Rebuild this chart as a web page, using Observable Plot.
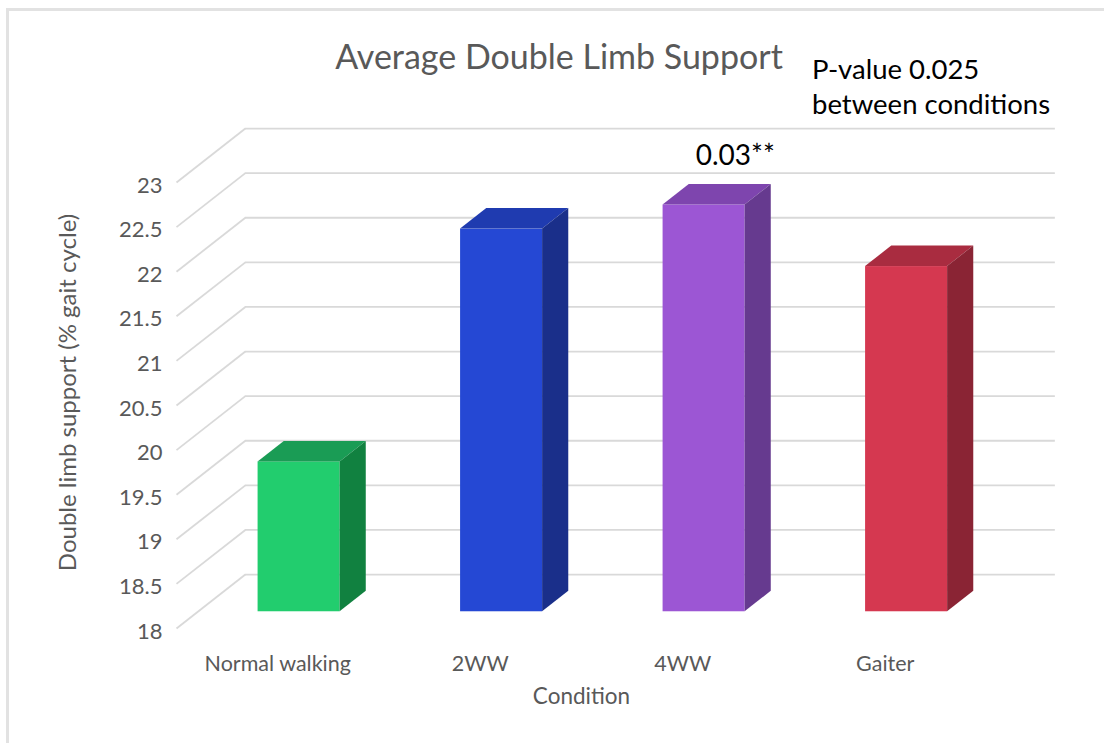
<!DOCTYPE html>
<html>
<head>
<meta charset="utf-8">
<script src="https://cdn.jsdelivr.net/npm/d3@7"></script>
<script src="https://cdn.jsdelivr.net/npm/@observablehq/plot@0.6"></script>
<style>
  html, body { margin: 0; padding: 0; background: #fff; }
  #chart { position: relative; width: 1104px; height: 743px; overflow: hidden; font-family: Lato, "Open Sans", sans-serif; }
  #chart svg { position: absolute; left: 0; top: 0; }
  #border { position: absolute; left: 6px; top: 8px; width: 1300px; height: 900px; border: 3px solid #e2e2e2; box-sizing: border-box; pointer-events: none; }
  .title { position: absolute; left: 7px; width: 1104px; top: 36px; text-align: center; font-size: 34px; line-height: 40px; color: #595959; }
  .note { position: absolute; left: 812px; top: 51px; font-size: 27.5px; line-height: 35px; color: #000; }
</style>
</head>
<body>
<div id="chart">
  <div class="title">Average Double Limb Support</div>
  <div class="note">P-value 0.025<br>between conditions</div>
</div>
<script>
// Mean double limb support (% of gait cycle) per walking condition
const conditions = ["Normal walking", "2WW", "4WW", "Gaiter"];
const support = [19.68, 22.29, 22.56, 21.87];
const pairwiseP = ["", "", "0.03**", ""];
const yTicks = [18, 18.5, 19, 19.5, 20, 20.5, 21, 21.5, 22, 22.5, 23];

// Face shades for each column: front, top, side
const frontColors = ["#22cd6e", "#2548d4", "#9c56d4", "#d53850"];
const topColors   = ["#1a9c55", "#1f3bb0", "#7e45ae", "#a92c40"];
const sideColors  = ["#118140", "#1a2f8a", "#663a8f", "#8a2434"];

// Oblique 3D projection: the depth axis moves right (category units) and up (value units)
const depthX = 0.34;
const depthY = 0.605;
const barFront = 0.31, barBack = 0.69;   // column depth span, as fractions of the wall depth
const barWidth = 0.405;                   // column width in category units
const baseline = 18;

const rows = conditions.map((c, i) => ({
  i, condition: c, value: support[i], label: pairwiseP[i],
  xl: i + 0.5 - barWidth / 2 + barFront * depthX,
  xr: i + 0.5 + barWidth / 2 + barFront * depthX
}));
const dX = (barBack - barFront) * depthX;

const topFaces = rows.flatMap(d => [
  {i: d.i, y: d.value + barFront * depthY, x1: d.xl, x2: d.xr, fill: topColors[d.i]},
  {i: d.i, y: d.value + barBack * depthY, x1: d.xl + dX, x2: d.xr + dX, fill: topColors[d.i]}
]);
const sideFaces = rows.flatMap(d => [
  {i: d.i, x: d.xr, y1: baseline + barFront * depthY, y2: d.value + barFront * depthY, fill: sideColors[d.i]},
  {i: d.i, x: d.xr + dX, y1: baseline + barBack * depthY, y2: d.value + barBack * depthY, fill: sideColors[d.i]}
]);

const grid = "#d9d9d9";
const axisGray = "#595959";

const chart = Plot.plot({
  width: 1104,
  height: 743,
  marginLeft: 176,
  marginRight: 118,
  marginTop: 182,
  marginBottom: 115,
  style: {background: "transparent", fontFamily: "Lato, 'Open Sans', sans-serif"},
  x: {domain: [0, conditions.length]},
  y: {domain: [18, 23]},
  color: {type: "identity"},
  marks: [
    // back wall gridlines and their receding side-wall segments
    Plot.ruleY(yTicks, {y: t => t + depthY, x1: () => depthX, x2: () => conditions.length + depthX, stroke: grid, strokeWidth: 1.8}),
    Plot.link(yTicks, {x1: () => 0, y1: t => t, x2: () => depthX, y2: t => t + depthY, stroke: grid, strokeWidth: 1.8}),
    // columns: front, top and side faces
    Plot.rect(rows, {x1: "xl", x2: "xr", y1: () => baseline + barFront * depthY, y2: d => d.value + barFront * depthY, fill: d => frontColors[d.i]}),
    Plot.areaX(topFaces, {y: "y", x1: "x1", x2: "x2", z: "i", fill: "fill"}),
    Plot.areaY(sideFaces, {x: "x", y1: "y1", y2: "y2", z: "i", fill: "fill"}),
    // significance label above the column
    Plot.text(rows.filter(d => d.label), {x: d => d.i + 0.5 + barBack * depthX, y: d => d.value + barBack * depthY, text: "label", dx: 5, dy: -28, fontSize: 28, fill: "#000"}),
    // axes
    Plot.axisY(yTicks, {tickSize: 0, tickPadding: 14, tickFormat: d => String(d), fontSize: 22, fill: axisGray, label: null, dy: 3}),
    Plot.axisX(conditions.map((c, i) => i + 0.5), {tickSize: 0, tickPadding: 27, tickFormat: d => conditions[Math.floor(d)], fontSize: 21.5, fill: axisGray, label: null}),
    Plot.text(["Condition"], {frameAnchor: "bottom", dy: 75, fontSize: 22.5, fill: axisGray}),
    Plot.text(["Double limb support (% gait cycle)"], {frameAnchor: "left", textAnchor: "middle", rotate: -90, dx: -108, dy: -13, fontSize: 24, fill: axisGray})
  ]
});

const host = document.getElementById("chart");
host.insertBefore(chart, host.firstChild);
const border = document.createElement("div");
border.id = "border";
host.appendChild(border);
</script>
</body>
</html>
